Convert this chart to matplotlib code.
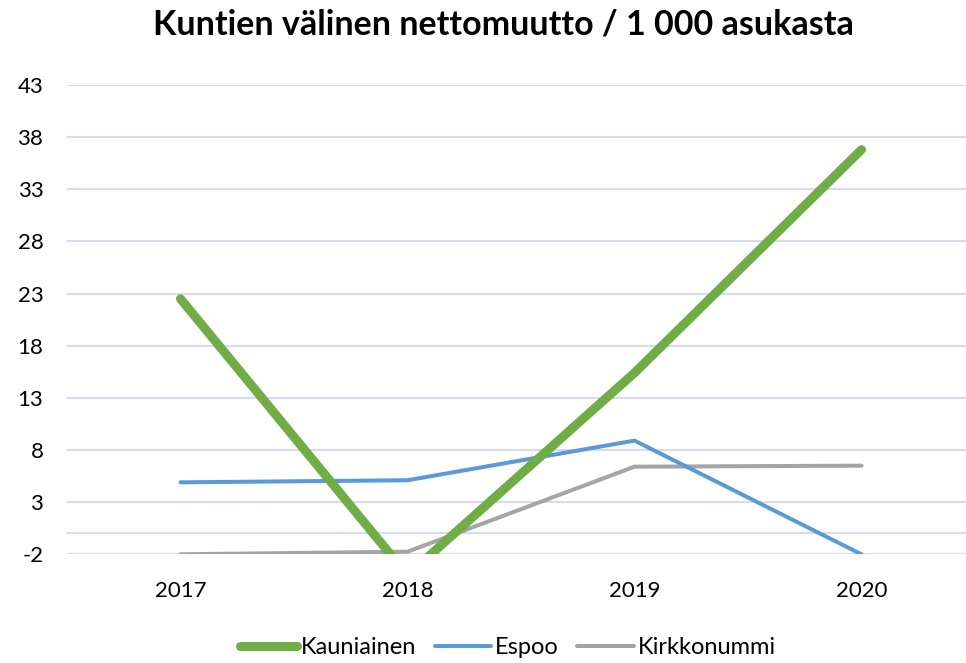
import numpy as np
import matplotlib.pyplot as plt

plt.rcParams['font.family'] = ['Lato', 'DejaVu Sans']
plt.rcParams['axes.unicode_minus'] = False

# data
years = ['2017', '2018', '2019', '2020']
kauniainen = [22.5, -4.0, 15.4, 36.8]
espoo = [4.9, 5.1, 8.9, -2.0]
kirkkonummi = [-2.0, -1.75, 6.4, 6.5]
yticks = [-2, 3, 8, 13, 18, 23, 28, 33, 38, 43]

W, H = 966, 663
fig = plt.figure(figsize=(W / 100, H / 100), dpi=100)
# plot area in pixels: left 67, right ~975 (cut by image edge), top 85, bottom 554
ax = fig.add_axes([67 / W, 1 - 554.3 / H, (975 - 67) / W, (554.3 - 85) / H])

x = np.arange(len(years))
grid_c = '#D9D9F2'
for v in yticks + [0]:
    ax.axhline(v, color=grid_c, lw=1.5, zorder=0)

ax.plot(x, espoo, color='#5B9BD5', lw=2.9, solid_capstyle='round',
        solid_joinstyle='round', label='Espoo', zorder=3)
ax.plot(x, kirkkonummi, color='#A5A5A5', lw=2.9, solid_capstyle='round',
        solid_joinstyle='round', label='Kirkkonummi', zorder=2)
ax.plot(x, kauniainen, color='#70AD47', lw=6.5, solid_capstyle='round',
        solid_joinstyle='round', label='Kauniainen', zorder=4)

ax.set_xlim(-0.5, 3.5)
ax.set_ylim(-2, 43)
ax.set_yticks(yticks)
ax.set_xticks(x)
ax.set_xticklabels(years)
ax.tick_params(axis='both', length=0, labelsize=16, colors='#000000')
ax.tick_params(axis='y', pad=17)
ax.tick_params(axis='x', pad=19)
for s in ax.spines.values():
    s.set_visible(False)

fig.text(503 / W, 1 - 25 / H, 'Kuntien välinen nettomuutto / 1 000 asukasta',
         ha='center', va='center', fontsize=24.5, fontweight='bold')

h, l = ax.get_legend_handles_labels()
order = [2, 0, 1]
fig.legend([h[i] for i in order], [l[i] for i in order], loc='center',
           bbox_to_anchor=(508 / W, 1 - 648 / H), ncol=3, frameon=False,
           fontsize=17, handlelength=2.4, handletextpad=0.15,
           columnspacing=0.8)

fig.savefig('out.png', dpi=100)
